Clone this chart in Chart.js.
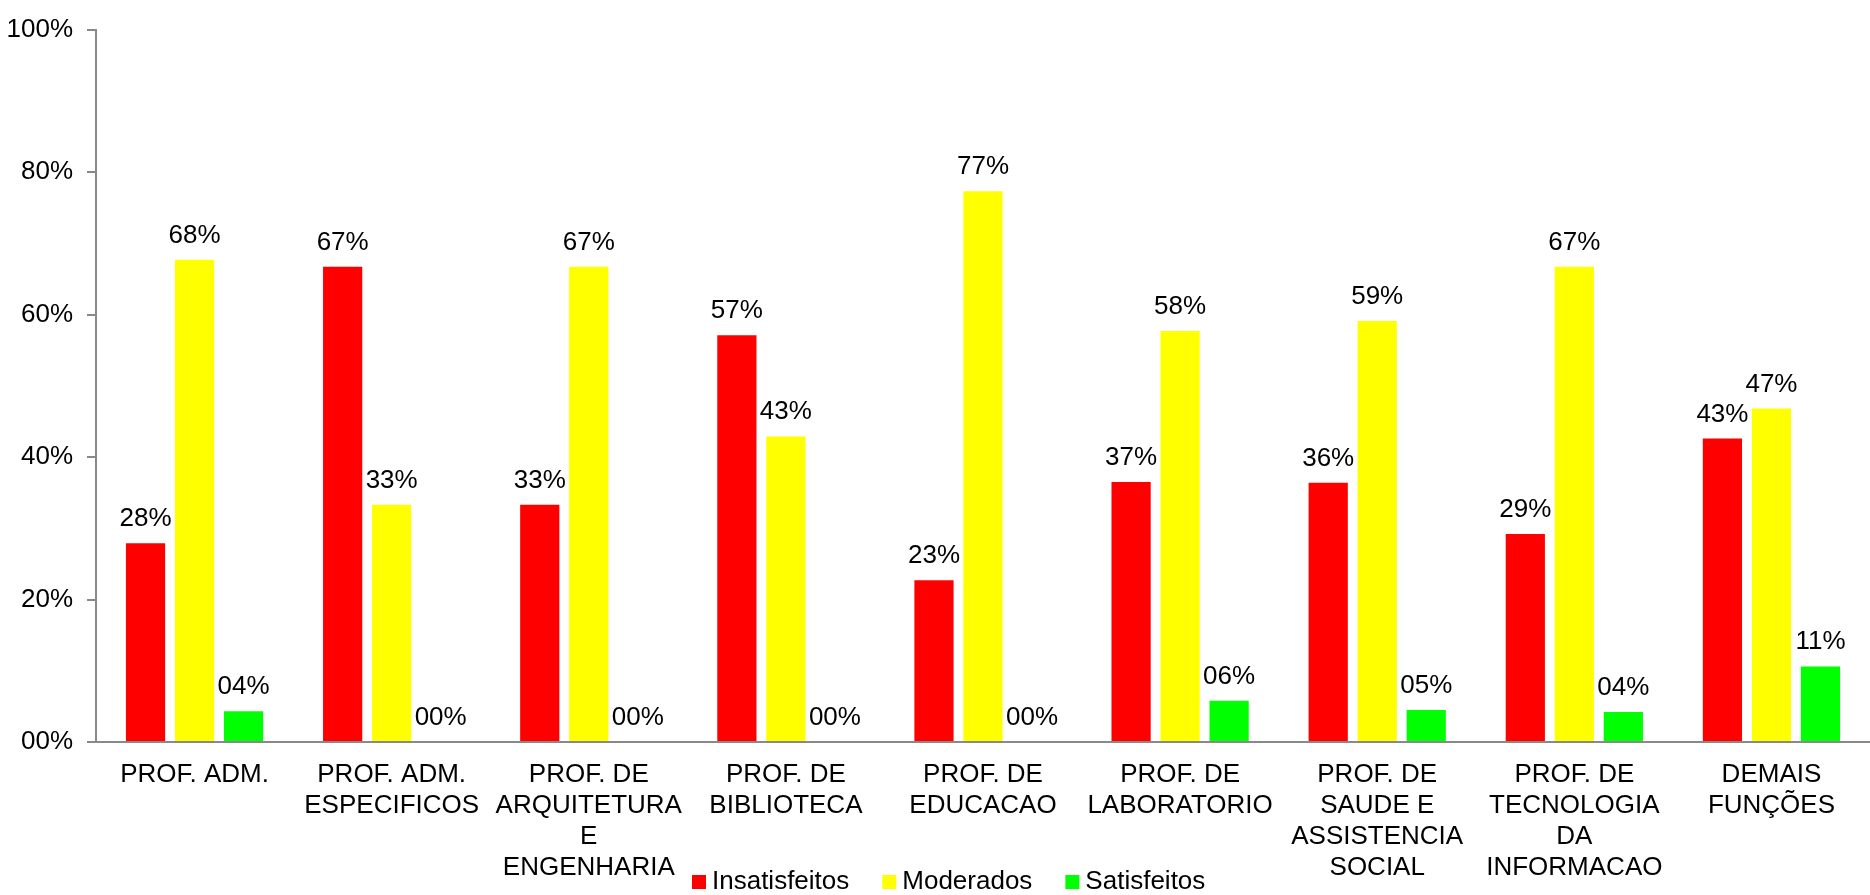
<!DOCTYPE html>
<html>
<head>
<meta charset="utf-8">
<script src="https://cdn.jsdelivr.net/npm/chart.js@4"></script>
<style>
  body { margin: 0; background: #fff; }
  canvas { display: block; }
</style>
</head>
<body>
<canvas id="myChart" width="1870" height="895"></canvas>
<script>
const categories = [
    ['PROF. ADM.'],
    ['PROF. ADM.', 'ESPECIFICOS'],
    ['PROF. DE', 'ARQUITETURA', 'E', 'ENGENHARIA'],
    ['PROF. DE', 'BIBLIOTECA'],
    ['PROF. DE', 'EDUCACAO'],
    ['PROF. DE', 'LABORATORIO'],
    ['PROF. DE', 'SAUDE E', 'ASSISTENCIA', 'SOCIAL'],
    ['PROF. DE', 'TECNOLOGIA', 'DA', 'INFORMACAO'],
    ['DEMAIS', 'FUNÇÕES']
];
const seriesNames = ['Insatisfeitos', 'Moderados', 'Satisfeitos'];
const insatisfeitos = [27.9, 66.7, 33.3, 57.1, 22.7, 36.5, 36.4, 29.2, 42.6];
const moderados = [67.7, 33.3, 66.7, 42.9, 77.3, 57.7, 59.1, 66.7, 46.8];
const satisfeitos = [4.3, 0, 0, 0, 0, 5.8, 4.5, 4.2, 10.6];
const yTicks = [0, 20, 40, 60, 80, 100];

const colors = ['#ff0000', '#ffff00', '#00ff00'];
const FONT = "'Liberation Sans', Arial, sans-serif";

function pct(v) {
    return String(Math.round(v)).padStart(2, '0') + '%';
}

// value labels above each bar
const barLabels = {
    id: 'barLabels',
    afterDatasetsDraw(chart) {
        const ctx = chart.ctx;
        ctx.save();
        ctx.font = '26px ' + FONT;
        ctx.fillStyle = '#000';
        ctx.textAlign = 'center';
        ctx.textBaseline = 'alphabetic';
        chart.data.datasets.forEach(function (ds, i) {
            chart.getDatasetMeta(i).data.forEach(function (bar, j) {
                ctx.fillText(pct(ds.data[j]), bar.x, bar.y - 17);
            });
        });
        ctx.restore();
    }
};

// legend drawn over the bottom, like the original
const bottomLegend = {
    id: 'bottomLegend',
    afterDraw(chart) {
        const ctx = chart.ctx;
        ctx.save();
        ctx.font = '26px ' + FONT;
        ctx.textBaseline = 'middle';
        ctx.textAlign = 'left';
        let x = 692;
        const y = 882;
        chart.data.datasets.forEach(function (ds) {
            ctx.fillStyle = ds.backgroundColor;
            ctx.fillRect(x, y - 7, 14, 14);
            ctx.fillStyle = '#000';
            ctx.fillText(ds.label, x + 20, y);
            x += 20 + ctx.measureText(ds.label).width + 33;
        });
        ctx.restore();
    }
};

const data = {
    labels: categories,
    datasets: [
        { label: seriesNames[0], data: insatisfeitos, backgroundColor: colors[0] },
        { label: seriesNames[1], data: moderados, backgroundColor: colors[1] },
        { label: seriesNames[2], data: satisfeitos, backgroundColor: colors[2] }
    ]
};

const config = {
    type: 'bar',
    data: data,
    options: {
        responsive: false,
        animation: false,
        datasets: {
            bar: { categoryPercentage: 0.746, barPercentage: 0.8 }
        },
        layout: { padding: { top: 20, right: 0, left: 0, bottom: 0 } },
        plugins: {
            legend: { display: false },
            tooltip: { enabled: false }
        },
        scales: {
            x: {
                grid: { display: true, drawOnChartArea: false, drawTicks: false },
                border: { color: '#898989', width: 2 },
                ticks: {
                    color: '#000',
                    font: { family: FONT, size: 26, lineHeight: 1.2 },
                    maxRotation: 0,
                    autoSkip: false,
                    padding: 17
                },
                afterFit(scale) { scale.height = 153; }
            },
            y: {
                min: 0,
                max: 100,
                afterBuildTicks(scale) {
                    scale.ticks = yTicks.map(v => ({ value: v }));
                },
                grid: { drawOnChartArea: false, drawTicks: true, tickLength: 9, color: '#898989', lineWidth: 2 },
                border: { color: '#898989', width: 2 },
                ticks: {
                    color: '#000',
                    font: { family: FONT, size: 26 },
                    padding: 14,
                    callback: v => pct(v)
                },
                afterFit(scale) { scale.width = 96; }
            }
        }
    },
    plugins: [barLabels, bottomLegend]
};

const myChart = new Chart(document.getElementById('myChart'), config);
</script>
</body>
</html>
